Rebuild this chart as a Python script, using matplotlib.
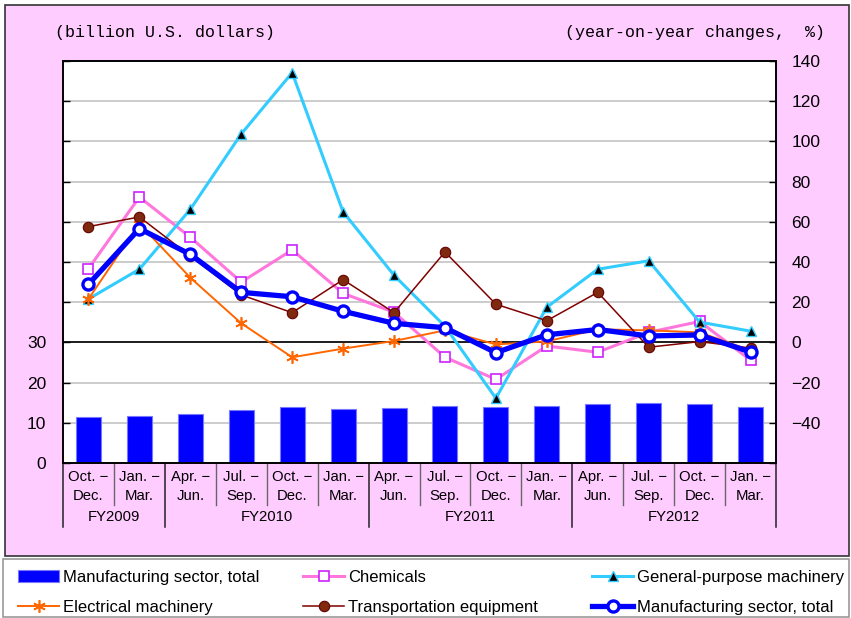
import matplotlib
matplotlib.use("Agg")
import matplotlib.pyplot as plt
from matplotlib.patches import Rectangle
from matplotlib import font_manager

# ---------------- data ----------------
categories = ["Oct. \u2212\nDec.", "Jan. \u2212\nMar.",
              "Apr. \u2212\nJun.", "Jul. \u2212\nSep.", "Oct. \u2212\nDec.", "Jan. \u2212\nMar.",
              "Apr. \u2212\nJun.", "Jul. \u2212\nSep.", "Oct. \u2212\nDec.", "Jan. \u2212\nMar.",
              "Apr. \u2212\nJun.", "Jul. \u2212\nSep.", "Oct. \u2212\nDec.", "Jan. \u2212\nMar."]
fiscal_years = ["FY2009", "FY2010", "FY2011", "FY2012"]
fy_quarters = [2, 4, 4, 4]

manufacturing_bn = [11.5, 11.6, 12.3, 13.1, 14.0, 13.4, 13.6, 14.3, 14.0, 14.3, 14.8, 15.0, 14.8, 13.9]
chemicals = [36.7, 72.3, 52.3, 30.0, 46.0, 24.4, 15.0, -7.4, -18.4, -1.8, -4.9, 5.0, 10.4, -8.8]
general_purpose = [21.6, 36.4, 66.2, 103.7, 134.2, 64.9, 33.4, 8.0, -27.8, 17.5, 36.4, 40.6, 10.1, 5.6]
electrical = [21.6, 59.0, 32.2, 9.5, -7.4, -3.1, 0.7, 6.0, -1.0, 0.5, 6.5, 6.0, 5.0, -4.0]
transportation = [57.6, 62.4, 43.0, 23.6, 14.8, 31.2, 14.8, 45.0, 19.0, 10.8, 24.9, -2.4, 0.4, -2.8]
manufacturing_yoy = [28.9, 56.6, 43.8, 24.9, 22.7, 15.5, 9.5, 7.3, -5.1, 3.8, 6.4, 3.2, 3.7, -4.8]

left_ticks = list(range(0, 101, 10))
left_labels = ["0", "10", "20", "30"] + [""] * 7
right_ticks = list(range(-60, 141, 20))
right_labels = [""] + [str(v).replace("-", "\u2212") for v in right_ticks[1:]]

# ---------------- fonts ----------------
names = {f.name for f in font_manager.fontManager.ttflist}
SANS = "Liberation Sans" if "Liberation Sans" in names else "DejaVu Sans"
MONO = "Liberation Mono" if "Liberation Mono" in names else "DejaVu Sans Mono"
if "Liberation Sans Narrow" in names:
    LEG_FONT, LEG_SIZE = "Liberation Sans Narrow", 14.5
else:
    LEG_FONT, LEG_SIZE = SANS, 12
plt.rcParams["font.family"] = [SANS, "DejaVu Sans"]

W, H = 851, 618
def fx(px): return px / W
def fy(py): return 1 - py / H

fig = plt.figure(figsize=(W / 100, H / 100), dpi=100)
fig.patch.set_facecolor("white")

fig.patches.append(Rectangle((fx(5), fy(556)), fx(849) - fx(5), fy(5) - fy(556),
                             transform=fig.transFigure, facecolor="#FFCCFF",
                             edgecolor="#333333", lw=1.2, zorder=-2))
fig.patches.append(Rectangle((fx(3), fy(617)), fx(849) - fx(3), fy(559) - fy(617),
                             transform=fig.transFigure, facecolor="white",
                             edgecolor="#999999", lw=1.2, zorder=-2))

ax = fig.add_axes([fx(63), fy(463), fx(776) - fx(63), fy(61) - fy(463)])
x = list(range(len(categories)))
ax.set_xlim(-0.5, len(categories) - 0.5)
ax.set_ylim(0, 100)
ax.set_facecolor("white")
bars = ax.bar(x, manufacturing_bn, width=0.49, color="#0000FF", edgecolor="#7777FF",
              lw=0.8, zorder=2, label="Manufacturing sector, total")
ax.set_axisbelow(True)
ax.yaxis.grid(True, color="#CCCCCC", lw=1.4)
ax.axhline(30, color="black", lw=1.2, zorder=1.5)
ax.set_yticks(left_ticks)
ax.set_yticklabels(left_labels)
ax.tick_params(axis="y", direction="in", length=5, width=1, pad=12, labelsize=12.5,
               colors="black")
ax.set_xticks(x)
ax.set_xticklabels(categories, fontsize=10.7, linespacing=1.5)
ax.tick_params(axis="x", length=0, pad=5)
for s in ax.spines.values():
    s.set_color("black")
    s.set_linewidth(1.2)

ax2 = ax.twinx()
ax2.set_ylim(-60, 140)
ax2.set_yticks(right_ticks)
ax2.set_yticklabels(right_labels)
ax2.tick_params(axis="y", direction="in", length=5, width=1, pad=11, labelsize=12.5)
for s in ax2.spines.values():
    s.set_color("black")
    s.set_linewidth(1.2)

l_chem, = ax2.plot(x, chemicals, color="#FF77DD", lw=2.2, marker="s", ms=7,
                   mfc="white", mec="#CC22FF", mew=1.2, zorder=3, label="Chemicals")
l_gen, = ax2.plot(x, general_purpose, color="#33CCFF", lw=2.2, marker="^", ms=7.5,
                  mfc="black", mec="#33CCFF", mew=1.0, zorder=4,
                  label="General-purpose machinery")
l_elec, = ax2.plot(x, electrical, color="#FF6600", lw=1.4, marker=(6, 2, 0), ms=9,
                   mec="#FF6600", mew=1.2, zorder=5, label="Electrical machinery")
l_trans, = ax2.plot(x, transportation, color="#800000", lw=1.1, marker="o", ms=7.5,
                    mfc="#7F2A0E", mec="#660000", mew=0.8, zorder=6,
                    label="Transportation equipment")
l_tot, = ax2.plot(x, manufacturing_yoy, color="#0000FF", lw=3.8, marker="o", ms=8,
                  mfc="white", mec="#0000FF", mew=2.4, zorder=7,
                  label="Manufacturing sector, total")

# category separators and fiscal-year groups
trans = ax.get_xaxis_transform()
ah = 402.0
bounds = [-0.5]
for n in fy_quarters:
    bounds.append(bounds[-1] + n)
for i in range(len(categories) + 1):
    b = i - 0.5
    if b in bounds:
        ax.plot([b, b], [0, -64 / ah], transform=trans, color="#222222", lw=1.1,
                clip_on=False)
    else:
        ax.plot([b, b], [0, -42 / ah], transform=trans, color="#666666", lw=1.0,
                clip_on=False)
for k, name in enumerate(fiscal_years):
    c = (bounds[k] + bounds[k + 1]) / 2
    ax.text(c, -54 / ah, name, transform=trans, ha="center", va="center", fontsize=10.7)

fig.text(fx(55), fy(32), "(billion U.S. dollars)", family=MONO, fontsize=12,
         ha="left", va="center")
fig.text(fx(825), fy(32), "(year-on-year changes,  %)", family=MONO, fontsize=12,
         ha="right", va="center")

cols = [([bars, l_elec], 18), ([l_chem, l_trans], 303), ([l_gen, l_tot], 592)]
for handles, px in cols:
    leg = fig.legend(handles=handles, loc="upper left",
                     bbox_to_anchor=(fx(px), fy(570)), bbox_transform=fig.transFigure,
                     frameon=False, borderpad=0, borderaxespad=0, numpoints=1,
                     handlelength=41 / (LEG_SIZE * 100 / 72), handletextpad=0.25,
                     labelspacing=0.88, prop={"family": LEG_FONT, "size": LEG_SIZE})

fig.savefig("out.png", dpi=100)
